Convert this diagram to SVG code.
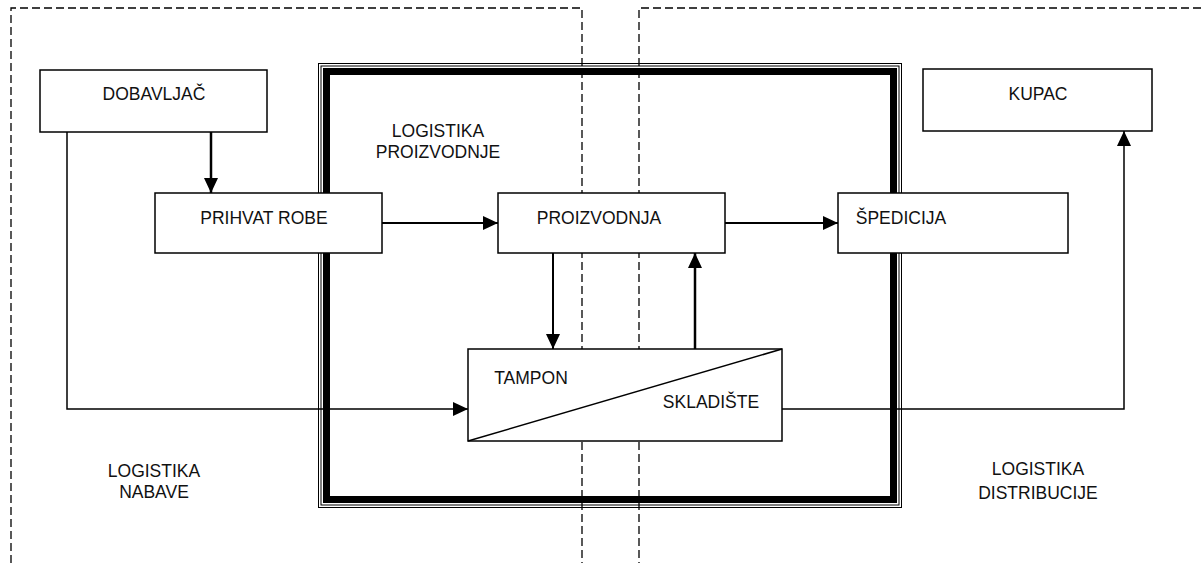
<svg xmlns="http://www.w3.org/2000/svg" width="1201" height="563" viewBox="0 0 1201 563">
<style>
.box{fill:#fff;stroke:#000;stroke-width:1.5}
.t{font-family:"Liberation Sans",Arial,sans-serif;font-size:17.5px;fill:#111;text-anchor:middle}
.dash{fill:none;stroke:#000;stroke-width:1.3;stroke-dasharray:8,4}
.c{fill:none;stroke:#000}
</style>
<defs>
<marker id="ah" viewBox="0 0 15 14" refX="15" refY="7" markerWidth="15" markerHeight="14" markerUnits="userSpaceOnUse" orient="auto">
<path d="M0,0 L15,7 L0,14 z" fill="#000"/>
</marker>
</defs>
<g id="regions">
<path class="dash" d="M11,563 V8 H582 V563"/>
<path class="dash" d="M1201,8 H639 V563"/>
</g>
<g id="frame">
<rect x="318.5" y="63.5" width="583" height="444" fill="none" stroke="#000" stroke-width="1"/>
<rect x="321" y="66" width="578" height="439" fill="none" stroke="#000" stroke-width="1"/>
<rect x="326.5" y="71.5" width="567" height="428" fill="none" stroke="#000" stroke-width="7"/>
<text class="t" x="438" y="137">LOGISTIKA</text>
<text class="t" x="438" y="158">PROIZVODNJE</text>
</g>
<g id="connectors">
<path class="c" stroke-width="2.5" d="M211,132 V193" marker-end="url(#ah)"/>
<path class="c" stroke-width="1.5" d="M67,132 V409 H468" marker-end="url(#ah)"/>
<path class="c" stroke-width="2" d="M382,223 H498" marker-end="url(#ah)"/>
<path class="c" stroke-width="2" d="M725,223 H838" marker-end="url(#ah)"/>
<path class="c" stroke-width="2" d="M553,253 V349" marker-end="url(#ah)"/>
<path class="c" stroke-width="2.5" d="M695,349 V253" marker-end="url(#ah)"/>
<path class="c" stroke-width="1.5" d="M782,409 H1124 V131" marker-end="url(#ah)"/>
</g>
<g id="dobavljac">
<rect class="box" x="40" y="70" width="227" height="62"/>
<text class="t" x="154" y="100">DOBAVLJAČ</text>
</g>
<g id="kupac">
<rect class="box" x="923" y="69" width="229" height="62"/>
<text class="t" x="1038" y="100">KUPAC</text>
</g>
<g id="prihvat">
<rect class="box" x="155" y="193" width="227" height="60"/>
<text class="t" x="264" y="224">PRIHVAT ROBE</text>
</g>
<g id="proizvodnja">
<rect class="box" x="498" y="193" width="227" height="60"/>
<text class="t" x="599" y="224">PROIZVODNJA</text>
</g>
<g id="spedicija">
<rect class="box" x="838" y="193" width="230" height="60"/>
<text class="t" x="901" y="224">ŠPEDICIJA</text>
</g>
<g id="tampon">
<rect class="box" x="468" y="349" width="314" height="92"/>
<line x1="468" y1="441" x2="782" y2="349" stroke="#000" stroke-width="1.5"/>
<text class="t" x="531" y="384">TAMPON</text>
<text class="t" x="711" y="408">SKLADIŠTE</text>
</g>
<g id="labels">
<text class="t" x="154" y="477">LOGISTIKA</text>
<text class="t" x="154" y="498">NABAVE</text>
<text class="t" x="1038" y="475">LOGISTIKA</text>
<text class="t" x="1038" y="499">DISTRIBUCIJE</text>
</g>
</svg>
